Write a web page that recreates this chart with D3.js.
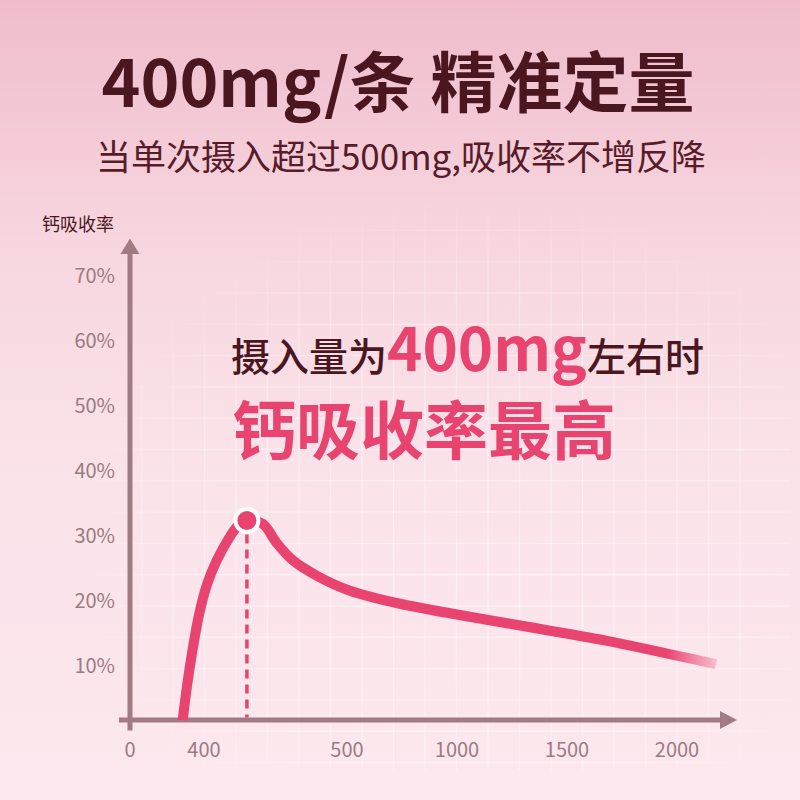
<!DOCTYPE html>
<html><head><meta charset="utf-8">
<script src="https://cdn.jsdelivr.net/npm/d3@7"></script>
<style>html,body{margin:0;padding:0;width:800px;height:800px;overflow:hidden;background:#fbe6ec}</style>
</head><body><svg id="c" width="800" height="800"></svg>
<script>
// ---- data ----
const doseMg      = [285, 308, 338, 373, 402, 409, 417.5, 423.8, 430, 441, 451, 462, 479, 514, 741, 1227, 1682, 2136, 2177];
const absorption  = [1.6, 6.8, 12.4, 17.8, 22.4, 26.2, 29.6, 31.5, 32.3, 31.8, 28.8, 26.2, 23.8, 21.5, 19.5, 16.5, 13.8, 10.5, 10.2];
const peakDose = 430;
const peakAbsorption = 32.3;
const baseValue = 1.6;
const yTicks = [10, 20, 30, 40, 50, 60, 70];
const xTicks = [0, 400, 500, 1000, 1500, 2000];
const titleText = "400mg/条 精准定量";
const subtitleText = "当单次摄入超过500mg,吸收率不增反降";
const yAxisTitle = "钙吸收率";
const noteLine1 = [["摄入量为", "dark"], ["400mg", "pink"], ["左右时", "dark"]];
const noteLine2 = "钙吸收率最高";

// ---- styles ----
const PINK = "#e9436f", DARK = "#4a1721", AXIS = "#a07b83", LABEL = "#9c7a82";
const FONT = "'Noto Sans CJK SC','Noto Sans',sans-serif";

const svg = d3.select("#c");
const defs = svg.append("defs");

const bg = defs.append("linearGradient").attr("id", "bg").attr("x1", 0).attr("y1", 0).attr("x2", 0).attr("y2", 1);
bg.append("stop").attr("offset", "0%").attr("stop-color", "#f0bccb");
bg.append("stop").attr("offset", "30%").attr("stop-color", "#f7d6df");
bg.append("stop").attr("offset", "60%").attr("stop-color", "#fbe3ea");
bg.append("stop").attr("offset", "100%").attr("stop-color", "#fce8ee");
svg.append("rect").attr("width", 800).attr("height", 800).attr("fill", "url(#bg)");

// scales
const x = d3.scaleLinear().domain([0, 400, 500, 2000]).range([130, 204, 347, 677]);
const y = d3.scaleLinear().domain([0, 70]).range([730.5, 275.5]);

// grid (decorative)
const rg = defs.append("radialGradient").attr("id", "fade").attr("cx", "0.55").attr("cy", "0.6").attr("r", "0.6");
rg.append("stop").attr("offset", "0%").attr("stop-color", "#fff").attr("stop-opacity", 1);
rg.append("stop").attr("offset", "70%").attr("stop-color", "#fff").attr("stop-opacity", 0.75);
rg.append("stop").attr("offset", "100%").attr("stop-color", "#fff").attr("stop-opacity", 0);
const mask = defs.append("mask").attr("id", "gm");
mask.append("rect").attr("x", 90).attr("y", 190).attr("width", 700).attr("height", 580).attr("fill", "url(#fade)");
const grid = svg.append("g").attr("mask", "url(#gm)").attr("stroke", "#ffffff").attr("stroke-opacity", 0.45).attr("stroke-width", 1.4);
d3.range(-3, 17).map(k => 236 + 31.5 * k).forEach(gx => grid.append("line").attr("x1", gx).attr("x2", gx).attr("y1", 190).attr("y2", 770));
d3.range(-2, 17).map(k => 261.7 + 31.3 * k).forEach(gy => grid.append("line").attr("x1", 90).attr("x2", 790).attr("y1", gy).attr("y2", gy));

// axes
const axisY = y(baseValue);
const ax = svg.append("g");
ax.append("line").attr("x1", x(0)).attr("x2", x(0)).attr("y1", y(73.8)).attr("y2", y(0)).attr("stroke", AXIS).attr("stroke-width", 5);
ax.append("path").attr("d", `M${x(0)},${y(75.7)} L${x(0) + 9.5},${y(73.3)} L${x(0) - 9.5},${y(73.3)} Z`).attr("fill", AXIS);
ax.append("line").attr("x1", x(0) - 11).attr("x2", x(2000) + 45).attr("y1", axisY).attr("y2", axisY).attr("stroke", AXIS).attr("stroke-width", 5);
ax.append("path").attr("d", `M${x(2000) + 60},${axisY} L${x(2000) + 43},${axisY - 9} L${x(2000) + 43},${axisY + 9} Z`).attr("fill", AXIS);

// tick labels
svg.append("g").selectAll("text").data(yTicks).join("text")
  .attr("x", 115).attr("y", d => y(d) + 7).attr("text-anchor", "end")
  .attr("font-family", FONT).attr("font-size", 20).attr("fill", LABEL).text(d => d + "%");
svg.append("g").selectAll("text").data(xTicks).join("text")
  .attr("x", d => x(d)).attr("y", 757).attr("text-anchor", "middle")
  .attr("font-family", FONT).attr("font-size", 20).attr("fill", LABEL).text(d => d);

svg.append("text").attr("x", 114).attr("y", 231).attr("text-anchor", "end")
  .attr("font-family", FONT).attr("font-size", 18).attr("fill", DARK).text(yAxisTitle);

// curve
const pts = doseMg.map((d, i) => [d, absorption[i]]);
const lg = defs.append("linearGradient").attr("id", "lineGrad").attr("gradientUnits", "userSpaceOnUse")
  .attr("x1", x(1950)).attr("x2", x(doseMg[doseMg.length - 1])).attr("y1", 0).attr("y2", 0);
lg.append("stop").attr("offset", "0%").attr("stop-color", PINK);
lg.append("stop").attr("offset", "100%").attr("stop-color", "#f7bccd");
const line = d3.line().x(d => x(d[0])).y(d => y(d[1])).curve(d3.curveCatmullRom.alpha(0.5));
svg.append("path").attr("d", line(pts)).attr("fill", "none").attr("stroke", "url(#lineGrad)")
  .attr("stroke-width", 10).attr("stroke-linecap", "butt").attr("stroke-linejoin", "round");

// peak marker
svg.append("line").attr("x1", x(peakDose)).attr("x2", x(peakDose)).attr("y1", y(peakAbsorption) + 14).attr("y2", axisY - 2.5)
  .attr("stroke", PINK).attr("stroke-width", 3.5).attr("stroke-dasharray", "9,6");
svg.append("circle").attr("cx", x(peakDose)).attr("cy", y(peakAbsorption)).attr("r", 11.5)
  .attr("fill", PINK).attr("stroke", "#fff").attr("stroke-width", 4);

// titles
svg.append("text").attr("x", 398).attr("y", 107).attr("text-anchor", "middle")
  .attr("font-family", FONT).attr("font-weight", 700).attr("font-size", 66).attr("fill", DARK).text(titleText);
svg.append("text").attr("x", 401).attr("y", 170).attr("text-anchor", "middle")
  .attr("font-family", FONT).attr("font-weight", 400).attr("font-size", 35).attr("fill", "#561c2a").text(subtitleText);

// annotation
const t1 = svg.append("text").attr("x", 231).attr("y", 371).attr("font-family", FONT);
noteLine1.forEach(([s, k]) => {
  t1.append("tspan").text(s)
    .attr("fill", k === "pink" ? PINK : DARK)
    .attr("font-size", k === "pink" ? 60 : 39)
    .attr("font-weight", k === "pink" ? 700 : 500);
});
svg.append("text").attr("x", 232).attr("y", 454).attr("font-family", FONT)
  .attr("font-weight", 700).attr("font-size", 64).attr("fill", PINK).text(noteLine2);
</script></body></html>
